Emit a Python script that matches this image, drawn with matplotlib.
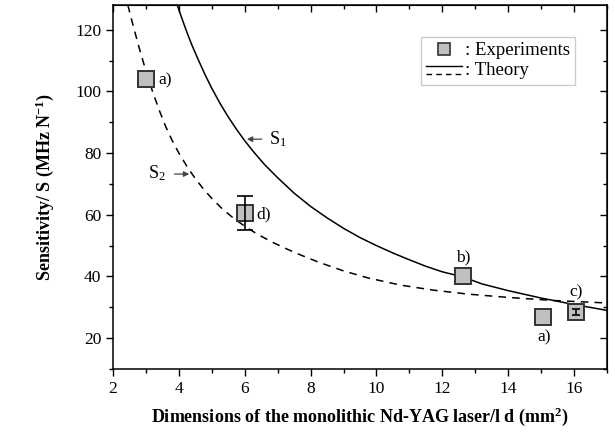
import numpy as np
import matplotlib
matplotlib.use("Agg")
import matplotlib.pyplot as plt
from matplotlib.lines import Line2D
from matplotlib.ticker import MultipleLocator

plt.rcParams['font.family'] = ['Liberation Serif', 'DejaVu Serif']
plt.rcParams['mathtext.fontset'] = 'custom'
plt.rcParams['mathtext.rm'] = 'Liberation Serif'
plt.rcParams['mathtext.it'] = 'Liberation Serif:italic'
plt.rcParams['mathtext.bf'] = 'Liberation Serif:bold'

# experimental points (l*d in mm^2, sensitivity in MHz/N)
exp_x = [3.0, 6.02, 12.64, 15.06, 16.05]
exp_y = [104.0, 60.6, 40.0, 26.8, 28.6]
exp_err = [0.0, 5.4, 0.0, 0.0, 1.0]
exp_labels = ['a)', 'd)', 'b)', 'a)', 'c)']
label_pos = [(3.59, 103.4), (6.58, 60.2), (12.64, 46.2), (15.1, 20.3), (16.05, 34.9)]

# theory curve S1 (solid)
s1_x = [3.95, 4.1, 4.25, 4.4, 4.6, 4.8, 5.0, 5.25, 5.5, 5.75, 6.0, 6.3, 6.6, 7.0, 7.5,
        8.0, 8.5, 9.0, 9.5, 10.0, 10.5, 11.0, 11.5, 12.0, 12.64, 13.2, 14.0, 15.0, 16.0, 17.0]
s1_y = [128, 123.4, 119, 114.9, 110, 105.3, 101, 96.1, 91.7, 87.7, 84, 80, 76.3, 72, 67,
        62.7, 59, 55.6, 52.6, 50, 47.6, 45.4, 43.3, 41.5, 39.8, 37.6, 35.4, 33, 30.9, 29]

# theory curve S2 (dashed)
s2_x = [2.45, 2.6, 2.8, 3.0, 3.2, 3.4, 3.6, 3.8, 4.0, 4.25, 4.5, 4.75, 5.0, 5.33, 5.67,
        6.0, 6.4, 6.88, 7.3, 7.69, 8.25, 9.0, 9.75, 10.73, 11.7, 12.76, 14.0, 15.4, 16.2, 17.0]
s2_y = [128, 121.8, 113.9, 106.6, 100, 94, 88.6, 84.0, 80.0, 75.6, 71.7, 68.3, 65.3, 61.8, 58.8,
        56.3, 53.6, 50.9, 48.8, 47.0, 44.6, 41.8, 39.5, 37.2, 35.6, 34.3, 33.2, 32.2, 31.8, 31.4]


class TheoryHandler:
    def legend_artist(self, legend, orig_handle, fontsize, handlebox):
        x0, y0 = handlebox.xdescent, handlebox.ydescent
        w, h = handlebox.width, handlebox.height
        l1 = Line2D([x0, x0 + w], [y0 + h * 0.75, y0 + h * 0.75], color='black', lw=1)
        l2 = Line2D([x0, x0 + w], [y0 + h * 0.1, y0 + h * 0.1], color='black', lw=1,
                    dashes=(4, 3))
        handlebox.add_artist(l1)
        handlebox.add_artist(l2)
        return l1


fig = plt.figure(figsize=(6.15, 4.37), dpi=100)
ax = fig.add_axes([113 / 615, 1 - 369 / 437, 494 / 615, 364 / 437])

ax.plot(s1_x, s1_y, color='black', lw=1.1)
ax.plot(s2_x, s2_y, color='black', lw=1.1, dashes=(5, 4))

ax.plot(exp_x, exp_y, 's', ms=11, mfc='#c0c0c0', mec='#333333', mew=1.4, zorder=4)
# error bars only where there is one; small bar drawn with smaller caps
for x, y, e in zip(exp_x, exp_y, exp_err):
    if e <= 0:
        continue
    cap = 6 if e > 2 else 3
    ax.errorbar([x], [y], yerr=[e], fmt='none', ecolor='black', elinewidth=1.2,
                capsize=cap, capthick=1.2, zorder=5)

for lab, (lx, ly) in zip(exp_labels, label_pos):
    ax.text(lx, ly, lab, fontsize=12.5, ha='center', va='center')

# S1 / S2 labels with arrows
ax.annotate('', xy=(5.98, 84.5), xytext=(6.6, 84.5),
            arrowprops=dict(arrowstyle='-|>', color='#444444', lw=0.9, mutation_scale=8))
ax.text(6.75, 84.5, r'S$_1$', fontsize=13, ha='left', va='center')
ax.annotate('', xy=(4.4, 73.2), xytext=(3.78, 73.2),
            arrowprops=dict(arrowstyle='-|>', color='#444444', lw=0.9, mutation_scale=8))
ax.text(3.6, 73.6, r'S$_2$', fontsize=13, ha='right', va='center')

ax.set_xlim(2, 17)
ax.set_ylim(10, 128)
ax.xaxis.set_major_locator(MultipleLocator(2))
ax.xaxis.set_minor_locator(MultipleLocator(1))
ax.yaxis.set_major_locator(MultipleLocator(20))
ax.yaxis.set_minor_locator(MultipleLocator(10))
ax.tick_params(which='both', direction='out', labelsize=12.5, width=1)
ax.tick_params(which='major', length=5)
ax.tick_params(which='minor', length=3)
for s in ax.spines.values():
    s.set_linewidth(1.1)

# mirrored inward ticks on top and right
for sec in (ax.secondary_xaxis('top'), ax.secondary_yaxis('right')):
    sec.tick_params(which='both', direction='in', labelleft=False, labelright=False,
                    labeltop=False, labelbottom=False, width=1)
    sec.tick_params(which='major', length=5)
    sec.tick_params(which='minor', length=3)
sx = ax.child_axes[0]
sy = ax.child_axes[1]
sx.xaxis.set_major_locator(MultipleLocator(2))
sx.xaxis.set_minor_locator(MultipleLocator(1))
sy.yaxis.set_major_locator(MultipleLocator(20))
sy.yaxis.set_minor_locator(MultipleLocator(10))

ax.set_xlabel(r'Dimensions of the monolithic Nd-YAG laser/l d (mm$^{\mathbf{2}}$)',
              fontsize=13, fontweight='bold', labelpad=6)
ax.set_ylabel(r'Sensitivity/ S (MHz N$^{\mathbf{-1}}$)', fontsize=13, fontweight='bold',
              labelpad=14)

exp_handle = Line2D([], [], ls='none', marker='s', ms=9, mfc='#c0c0c0', mec='#333333', mew=1.2)
theory_handle = object()
leg = ax.legend([exp_handle, theory_handle], [': Experiments', ': Theory'],
                handler_map={object: TheoryHandler()}, loc='upper right',
                bbox_to_anchor=(0.936, 0.913), fontsize=13.5, fancybox=False,
                framealpha=1, edgecolor='#cccccc', handlelength=1.9, handletextpad=0.15,
                borderpad=0.3, labelspacing=0.15, borderaxespad=0)
leg.get_frame().set_linewidth(1)

fig.savefig('out.png', dpi=100)
